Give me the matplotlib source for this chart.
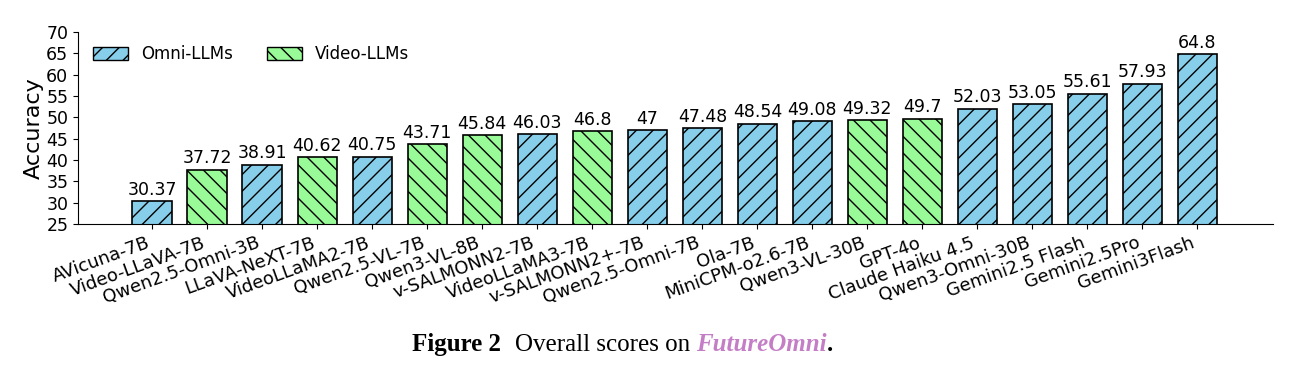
import matplotlib.pyplot as plt
from matplotlib.patches import Patch

plt.rcParams['font.family'] = ['DejaVu Sans']

# Model names, scores and type (omni / video)
models = ['AVicuna-7B', 'Video-LLaVA-7B', 'Qwen2.5-Omni-3B', 'LLaVA-NeXT-7B',
          'VideoLLaMA2-7B', 'Qwen2.5-VL-7B', 'Qwen3-VL-8B', 'v-SALMONN2-7B',
          'VideoLLaMA3-7B', 'v-SALMONN2+-7B', 'Qwen2.5-Omni-7B', 'Ola-7B',
          'MiniCPM-o2.6-7B', 'Qwen3-VL-30B', 'GPT-4o', 'Claude Haiku 4.5',
          'Qwen3-Omni-30B', 'Gemini2.5 Flash', 'Gemini2.5Pro', 'Gemini3Flash']
scores = [30.37, 37.72, 38.91, 40.62, 40.75, 43.71, 45.84, 46.03, 46.8, 47,
          47.48, 48.54, 49.08, 49.32, 49.7, 52.03, 53.05, 55.61, 57.93, 64.8]
kinds = ['omni', 'video', 'omni', 'video', 'omni', 'video', 'video', 'omni',
         'video', 'omni', 'omni', 'omni', 'omni', 'video', 'video', 'omni',
         'omni', 'omni', 'omni', 'omni']

colors = {'omni': '#87CEEB', 'video': '#98FB98'}
hatches = {'omni': '//', 'video': '\\\\'}

fig = plt.figure(figsize=(12.9, 3.74), dpi=100)
ax = fig.add_axes([0.0605, 0.401, 0.9265, 0.513])

x = range(len(models))
bars = ax.bar(x, scores, width=0.72,
              color=[colors[k] for k in kinds],
              hatch=[hatches[k] for k in kinds],
              edgecolor='black', linewidth=1.2)

for b, s in zip(bars, scores):
    ax.text(b.get_x() + b.get_width() / 2, s + 0.6, f'{s:g}',
            ha='center', va='bottom', fontsize=12.5)

ax.set_ylim(25, 70)
ax.set_xlim(-1.35, 20.38)
ax.set_yticks(range(25, 71, 5))
ax.set_xticks(list(x))
ax.set_xticklabels(models, rotation=20, ha='right', fontsize=13)
ax.tick_params(axis='y', labelsize=12.5)
ax.set_ylabel('Accuracy', fontsize=16, labelpad=2)
ax.spines['top'].set_visible(False)
ax.spines['right'].set_visible(False)

handles = [Patch(facecolor=colors['omni'], hatch='//', edgecolor='black', label='Omni-LLMs'),
           Patch(facecolor=colors['video'], hatch='\\\\', edgecolor='black', label='Video-LLMs')]
ax.legend(handles=handles, loc='upper left', ncol=2, frameon=False, fontsize=12,
          bbox_to_anchor=(0.0, 1.01), handlelength=2.1, handleheight=0.8,
          columnspacing=2.0)

# caption, pieces placed one after another
fig.canvas.draw()
renderer = fig.canvas.get_renderer()
pieces = [('Figure 2', dict(fontweight='bold'), 14),
          ('Overall scores on', dict(), 6),
          ('FutureOmni', dict(fontweight='bold', style='italic', color='#C47EC6'), 0),
          ('.', dict(fontweight='bold'), 0)]
xpix = 412
for txt, kw, gap in pieces:
    t = fig.text(xpix / 1290, 0.078, txt, fontsize=18, family='Liberation Serif',
                 ha='left', va='center', **kw)
    bb = t.get_window_extent(renderer)
    xpix = bb.x1 + gap

fig.savefig('out.png', dpi=100)
